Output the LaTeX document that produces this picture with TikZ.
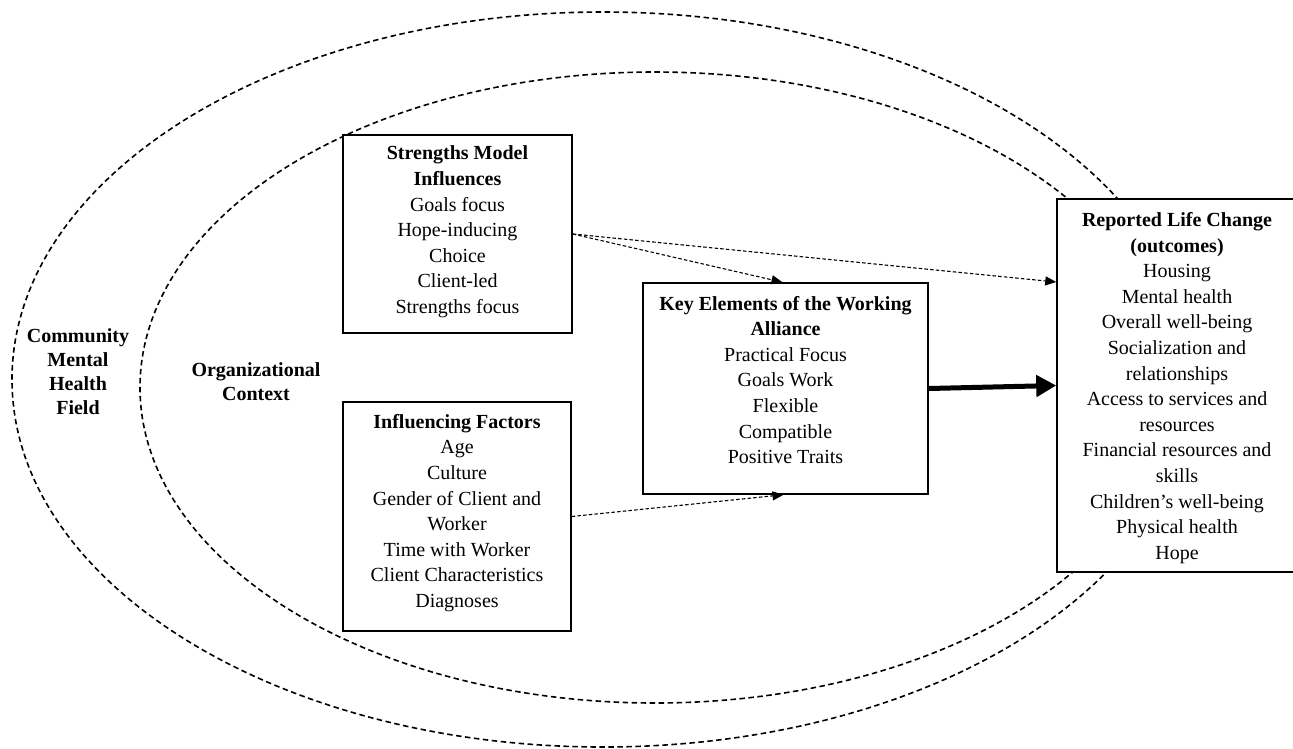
\documentclass[tikz,border=0pt]{standalone}
\usepackage{fontspec}
\setmainfont{Liberation Serif}
\usetikzlibrary{arrows.meta,calc}
\begin{document}
\begin{tikzpicture}[x=1pt,y=-1pt,
  ell/.style={draw=black,line width=1.6pt,dash pattern=on 5.5pt off 3.5pt},
  box/.style={draw=black,line width=1.5pt,fill=white,rectangle,inner sep=0pt},
  txt/.style={align=center,inner sep=0pt,font=\fontsize{20}{25.6}\selectfont},
  lbl/.style={align=center,inner sep=0pt,font=\fontsize{20}{24}\selectfont\bfseries},
  dasharrow/.style={draw=black,line width=1.1pt,dash pattern=on 3.5pt off 2.2pt,-{Triangle[length=11pt,width=9pt]}},
  bigarrow/.style={draw=black,line width=5pt,-{Triangle[length=20pt,width=21pt]},shorten >=0pt}
]
\useasboundingbox (0,0) rectangle (1293,748);
% ellipses
\draw[ell] (603,379.5) ellipse [x radius=591pt, y radius=367.5pt];
\draw[ell] (655,387.5) ellipse [x radius=515pt, y radius=315.5pt];
% boxes
\node[box,minimum width=229pt,minimum height=198pt] (sm) at (457.5,234) {};
\node[txt] (smt) at (457.5,232) {\textbf{Strengths Model}\\\textbf{Influences}\\Goals focus\\Hope-inducing\\Choice\\Client-led\\Strengths focus};
\node[box,minimum width=228pt,minimum height=229pt] (inf) at (457,516.5) {};
\node[txt] (inft) at (457,513) {\textbf{Influencing Factors}\\Age\\Culture\\Gender of Client and\\Worker\\Time with Worker\\Client Characteristics\\Diagnoses};
\node[box,minimum width=285pt,minimum height=211pt] (key) at (785.5,388.5) {};
\node[txt] (keyt) at (785.5,380) {\textbf{Key Elements of the Working}\\\textbf{Alliance}\\Practical Focus\\Goals Work\\Flexible\\Compatible\\Positive Traits};
\node[box,minimum width=240pt,minimum height=373pt] (rep) at (1177,385.5) {};
\node[txt] (rept) at (1177,388) {\textbf{Reported Life Change}\\\textbf{(outcomes)}\\Housing\\Mental health\\Overall well-being\\Socialization and\\relationships\\Access to services and\\resources\\Financial resources and\\skills\\Children’s well-being\\Physical health\\Hope};
% side labels
\node[lbl] (cmh) at (78,372) {Community\\Mental\\Health\\Field};
\node[lbl] (org) at (256,382) {Organizational\\Context};
% connectors
\coordinate (repin) at ([yshift=103.5pt]rep.west);
\draw[dasharrow] (sm.east) -- ([xshift=-3pt]key.north);
\draw[dasharrow] (sm.east) -- (repin);
\draw[dasharrow] (inf.east) -- ([xshift=-2pt]key.south);
\draw[bigarrow] (key.east) -- (rep.west);
\end{tikzpicture}
\end{document}
